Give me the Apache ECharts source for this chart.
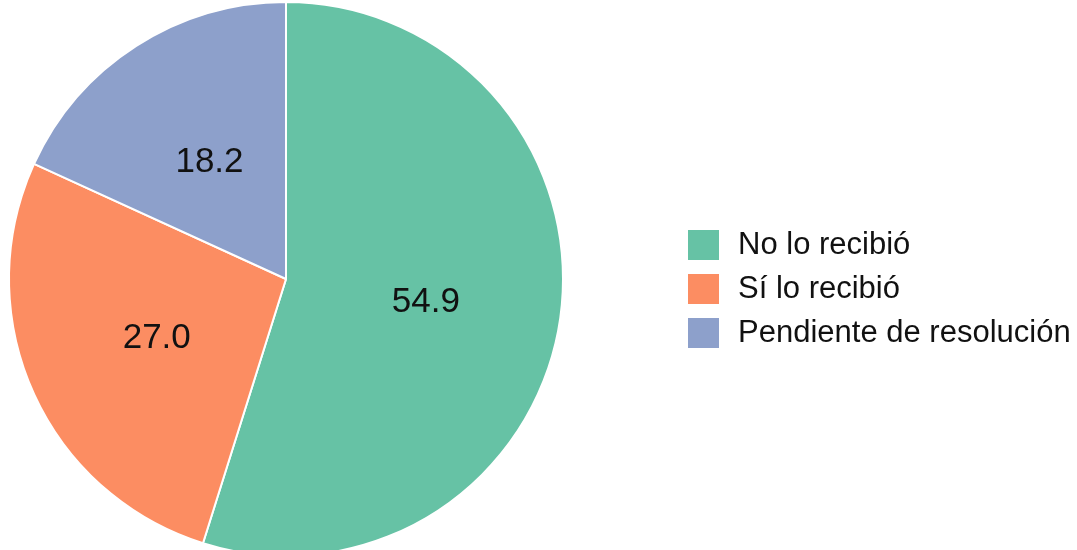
<!DOCTYPE html>
<html>
<head>
<meta charset="utf-8">
<script src="https://cdn.jsdelivr.net/npm/echarts@6/dist/echarts.min.js"></script>
<style>
html,body{margin:0;padding:0;background:#fff;}
#chart{width:1077px;height:550px;}
</style>
</head>
<body>
<div id="chart"></div>
<script>
const categories = ["No lo recibió", "Sí lo recibió", "Pendiente de resolución"];
const values = [54.9, 27.0, 18.2];
const colors = ["#66C2A5", "#FC8D62", "#8DA0CB"];

const chart = echarts.init(document.getElementById('chart'), null, {renderer: 'canvas'});
chart.setOption({
  animation: false,
  color: colors,
  legend: {
    orient: 'vertical',
    left: 686,
    top: 228,
    padding: 0,
    itemWidth: 33,
    itemHeight: 32,
    itemGap: 10,
    icon: 'rect',
    data: categories,
    textStyle: {fontFamily: 'Liberation Sans, Arial, sans-serif', fontSize: 31, color: '#111', padding: [0, 0, 0, 13]},
    selectedMode: false
  },
  series: [{
    type: 'pie',
    center: [286, 279],
    radius: [0, 277],
    startAngle: 90,
    clockwise: true,
    silent: true,
    itemStyle: {borderColor: '#ffffff', borderWidth: 2},
    label: {
      show: true,
      position: 'inside',
      formatter: p => p.value.toFixed(1),
      fontFamily: 'Liberation Sans, Arial, sans-serif',
      fontSize: 35,
      color: '#111',
      offset: [0, 2]
    },
    labelLine: {show: false},
    data: categories.map((c, i) => ({name: c, value: values[i]}))
  }]
});
</script>
</body>
</html>
